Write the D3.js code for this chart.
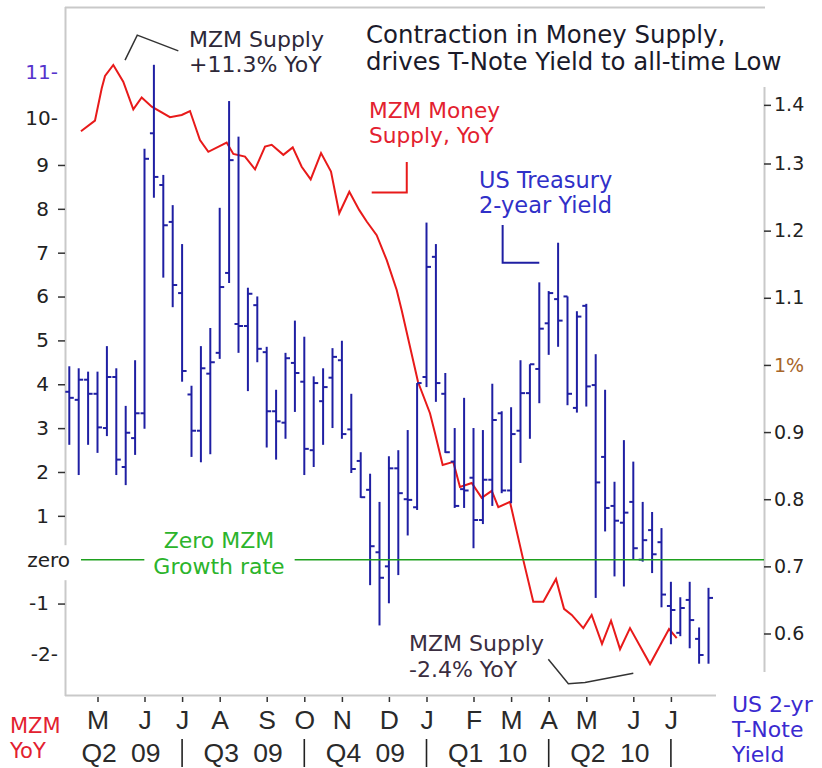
<!DOCTYPE html>
<html><head><meta charset="utf-8">
<script src="https://cdn.jsdelivr.net/npm/d3@7"></script>
<style>
html,body{margin:0;padding:0;background:#fff;}
svg{display:block;background:#fff;}
text{font-family:"DejaVu Sans",Verdana,sans-serif;}
</style></head><body>
<svg id="chart" width="822" height="768"></svg>
<script>
// ---- data: weekly US 2-year Treasury yield (OHLC, %) ----
const yieldHigh = [0.998,0.995,0.990,0.990,1.028,0.995,0.939,1.007,1.322,1.447,
  1.283,1.238,1.180,0.969,1.028,1.055,1.234,1.393,1.340,1.115,
  1.102,1.027,0.963,1.018,1.066,1.042,0.983,0.995,1.025,1.036,
  0.957,0.870,0.838,0.796,0.864,0.873,0.903,0.973,1.212,1.180,
  0.988,0.906,0.951,0.906,0.903,0.972,0.931,0.937,1.007,1.001,
  1.123,1.110,1.182,1.102,1.080,1.091,1.016,0.963,0.826,0.888,
  0.856,0.796,0.781,0.757,0.677,0.654,0.677,0.609,0.668];
const yieldLow = [0.881,0.836,0.881,0.869,0.894,0.836,0.821,0.866,0.905,1.249,
  1.130,1.086,0.975,0.863,0.855,0.867,1.009,1.122,1.018,0.961,
  1.004,0.877,0.859,0.890,0.930,0.836,0.848,0.881,0.906,0.890,
  0.839,0.802,0.672,0.612,0.645,0.687,0.746,0.784,0.967,0.945,
  0.869,0.787,0.787,0.727,0.763,0.790,0.809,0.794,0.854,0.890,
  0.943,1.015,1.027,0.940,0.929,0.938,0.653,0.752,0.685,0.670,
  0.710,0.707,0.690,0.639,0.584,0.596,0.578,0.555,0.555];
const yieldOpen = [0.960,0.948,0.978,0.957,0.906,0.982,0.848,0.891,0.928,1.345,
  1.268,1.213,1.107,0.956,0.902,0.987,1.018,1.137,1.061,1.058,
  1.089,1.019,0.931,0.914,1.003,0.975,0.873,0.946,0.981,1.007,
  0.904,0.857,0.814,0.721,0.700,0.846,0.800,0.788,0.982,1.161,
  0.957,0.856,0.815,0.832,0.769,0.829,0.928,0.813,0.902,0.958,
  0.994,1.062,1.098,1.102,0.936,1.088,0.970,0.863,0.790,0.765,
  0.796,0.710,0.754,0.736,0.641,0.601,0.650,0.592,null];
const yieldClose = [0.951,0.978,0.957,0.907,0.982,0.859,0.899,0.928,1.307,1.280,
  1.208,1.119,0.991,0.902,0.995,1.004,1.116,1.305,1.058,1.106,
  1.024,0.931,0.916,1.010,0.988,0.875,0.973,0.967,1.012,0.897,
  0.845,0.803,0.730,0.683,0.846,0.809,0.799,0.973,1.146,0.973,
  0.870,0.790,0.813,0.769,0.829,0.918,0.813,0.897,0.958,1.001,
  1.054,1.107,1.066,0.957,1.072,0.968,0.825,0.787,0.768,0.780,
  0.727,0.739,0.718,0.658,0.635,0.638,0.620,0.568,0.653];

// ---- data: MZM money supply, % YoY (week position, value) ----
const mzmWeek = [1.24,2.73,3.45,3.80,4.68,5.74,6.81,7.70,8.77,10.71,
  11.96,12.84,13.90,14.79,16.74,17.45,18.69,19.76,20.82,21.53,
  22.77,23.77,24.72,25.68,26.78,27.84,28.72,29.79,30.85,31.64,
  32.70,33.77,34.83,35.36,37.1,38.37,38.90,39.72,40.85,41.56,
  42.81,43.87,44.94,45.64,46.88,48.30,49.36,50.43,51.78,52.63,
  53.45,54.68,55.57,56.67,57.63,58.59,59.65,61.78,63.80,64.62];
const mzmYoY = [9.77,10.01,10.75,11.03,11.28,10.90,10.27,10.54,10.33,10.09,
  10.14,10.23,9.57,9.30,9.51,9.25,9.19,8.90,9.42,9.46,
  9.23,9.40,8.96,8.67,9.27,8.85,7.90,8.39,7.97,7.71,
  7.40,6.83,6.15,5.69,4.05,3.34,2.89,2.16,2.23,1.66,
  1.75,1.41,1.57,1.20,1.32,-0.01,-0.96,-0.96,-0.44,-1.12,
  -1.26,-1.56,-1.26,-1.92,-1.39,-2.04,-1.56,-2.38,-1.58,-1.79];

// ---- axis labels ----
const monthLabels = ["M","J","J","A","S","O","N","D","J","F","M","A","M","J","J"];
const monthWeek = [3,8,12,16,21,25,29,34,38,43,47,51,55,60,64];
const quarterLabels = ["Q2 09","Q3 09","Q4 09","Q1 10","Q2 10"];
const quarterBounds = [-1,12,25,38,51,64];
const leftTicks = [-2,-1,0,1,2,3,4,5,6,7,8,9,10,11];
const leftTickLabels = ["-2-","-1","zero","1","2","3","4","5","6","7","8","9","10-","11-"];
const rightTicks = [0.6,0.7,0.8,0.9,1.0,1.1,1.2,1.3,1.4];
const rightTickLabels = ["0.6","0.7","0.8","0.9","1%","1.1","1.2","1.3","1.4"];

// ---- annotation leaders (data units) ----
const leaderTop = [[5.93,11.39],[7.23,11.96],[11.6,11.6]];        // MZM axis
const leaderRed = [[32.17,8.37],[35.9,8.37],[35.9,9.07]];         // MZM axis
const leaderBlue = [[46.1,1.2085],[46.1,1.1523],[50.0,1.1523]];   // yield axis
const leaderBottom = [[50.96,-2.27],[53.09,-2.83],[54.86,-2.80],[60.0,-2.59]]; // MZM axis

// ---- drawing ----
const svg = d3.select("#chart");
const x = d3.scaleLinear().domain([0, 68]).range([69.3, 708.5]);
const yL = d3.scaleLinear().domain([0, 10]).range([559.7, 121.1]);
const yR = d3.scaleLinear().domain([0.6, 1.3]).range([633.5, 163.5]);

const BLUE = "#1f1fa3", RED = "#e81a1a", GREEN = "#1ea01e", FRAME = "#c9c9c9";
const BOTTOMFONT = "'Liberation Sans',Arial,sans-serif";

// frame
const frame = svg.append("g").attr("stroke", FRAME).attr("stroke-width", 2);
frame.append("line").attr("x1",65.5).attr("x2",65.5).attr("y1",7).attr("y2",696);
frame.append("line").attr("x1",65).attr("x2",765).attr("y1",7.5).attr("y2",7.5);
frame.append("line").attr("x1",65).attr("x2",716).attr("y1",695.5).attr("y2",695.5);
frame.append("line").attr("x1",764.5).attr("x2",764.5).attr("y1",87).attr("y2",672);

// left axis
const axL = svg.append("g").attr("transform","translate(65,0)")
  .call(d3.axisLeft(yL).tickValues(leftTicks).tickSize(7).tickPadding(9)
    .tickFormat(d => leftTickLabels[leftTicks.indexOf(d)]));
axL.select(".domain").remove();
axL.selectAll(".tick line").attr("stroke","#333").attr("stroke-width",1.5);
axL.selectAll(".tick text").attr("font-size",20).attr("fill","#222")
  .style("font-family","'DejaVu Sans',Verdana,sans-serif");
const nudgeL = {11:-5, 10:-3, "-2":7};
axL.selectAll(".tick").each(function(d){
  const g = d3.select(this);
  const lab = leftTickLabels[leftTicks.indexOf(d)];
  if (lab.endsWith("-")) {
    g.select("line").remove();
    g.select("text").attr("x",-7).attr("dy", (0.32*20 + (nudgeL[d]||0)) + "px");
  }
  if (d === 11) g.select("text").attr("fill","#5533cc");
  if (d === 0) {
    g.select("line").remove();
    g.insert("rect","text").attr("x",-6).attr("y",-15).attr("width",13).attr("height",35).attr("fill","#fff");
    g.select("text").attr("x",5);
  }
});

// right axis
const axR = svg.append("g").attr("transform","translate(764,0)")
  .call(d3.axisRight(yR).tickValues(rightTicks).tickSize(7).tickPadding(3)
    .tickFormat(d => rightTickLabels[rightTicks.indexOf(d)]));
axR.select(".domain").remove();
axR.selectAll(".tick line").attr("stroke","#333").attr("stroke-width",1.5);
axR.selectAll(".tick text").attr("font-size",19).attr("fill","#222")
  .style("font-family","'DejaVu Sans',Verdana,sans-serif");
axR.selectAll(".tick").filter(d => d === 1.4).attr("transform", `translate(0,${yR(1.4)+9})`);
axR.selectAll(".tick").filter(d => d === 1.0).select("text").attr("fill","#a8662a");

// bottom axis (months)
const axB = svg.append("g").attr("transform","translate(0,697)")
  .call(d3.axisBottom(x).tickValues(monthWeek).tickSize(5).tickPadding(0)
    .tickFormat(d => monthLabels[monthWeek.indexOf(d)]));
axB.select(".domain").remove();
axB.selectAll(".tick line").attr("stroke","#333").attr("stroke-width",1.5);
axB.selectAll(".tick text").attr("font-size",26.5).attr("fill","#2a2a2a")
  .attr("y",32).attr("dy",0)
  .style("font-family",BOTTOMFONT);

// quarters
const qg = svg.append("g");
quarterLabels.forEach((q,i) => {
  const cx = x((quarterBounds[i]+quarterBounds[i+1])/2);
  qg.append("text")
    .attr("x",cx).attr("y",762)
    .attr("text-anchor","middle").attr("font-size",26.5).attr("fill","#2a2a2a")
    .style("font-family",BOTTOMFONT).style("word-spacing","7px").text(q);
});
quarterBounds.slice(1).forEach(b => {
  qg.append("line").attr("x1", x(b)).attr("x2", x(b)).attr("y1",739).attr("y2",767)
    .attr("stroke","#222").attr("stroke-width",1.6);
});

// MZM line
const mzm = mzmWeek.map((w,i) => [w, mzmYoY[i]]);
svg.append("path").datum(mzm)
  .attr("d", d3.line().x(d => x(d[0])).y(d => yL(d[1])))
  .attr("fill","none").attr("stroke",RED).attr("stroke-width",2).attr("stroke-linejoin","miter");

// yield bars
const bars = svg.append("g").attr("stroke",BLUE).attr("stroke-width",2);
yieldHigh.forEach((h,i) => {
  const cx = x(i);
  bars.append("line").attr("x1",cx).attr("x2",cx).attr("y1",yR(h)).attr("y2",yR(yieldLow[i]));
  if (yieldOpen[i] != null)
    bars.append("line").attr("x1",cx-4).attr("x2",cx).attr("y1",yR(yieldOpen[i])).attr("y2",yR(yieldOpen[i]));
  if (yieldClose[i] != null)
    bars.append("line").attr("x1",cx).attr("x2",cx+4.5).attr("y1",yR(yieldClose[i])).attr("y2",yR(yieldClose[i]));
});

// zero line with gap for its label
const zl = svg.append("g");
zl.append("text").attr("x",219).attr("y",548).attr("text-anchor","middle")
  .attr("font-size",22).attr("fill","#2cb42c").text("Zero MZM");
const zt2 = zl.append("text").attr("x",219).attr("y",574).attr("text-anchor","middle")
  .attr("font-size",22).attr("fill","#2cb42c").text("Growth rate");
const bb = zt2.node().getBBox();
zl.append("line").attr("x1",81).attr("x2",bb.x-9).attr("y1",yL(0)).attr("y2",yL(0))
  .attr("stroke",GREEN).attr("stroke-width",1.6);
zl.append("line").attr("x1",bb.x+bb.width+10).attr("x2",764).attr("y1",yL(0)).attr("y2",yL(0))
  .attr("stroke",GREEN).attr("stroke-width",1.6);

// leaders
const lineL = d3.line().x(d => x(d[0])).y(d => yL(d[1]));
const lineR = d3.line().x(d => x(d[0])).y(d => yR(d[1]));
svg.append("path").attr("d", lineL(leaderTop)).attr("fill","none").attr("stroke","#333").attr("stroke-width",1.5);
svg.append("path").attr("d", lineL(leaderBottom)).attr("fill","none").attr("stroke","#333").attr("stroke-width",1.5);
svg.append("path").attr("d", lineL(leaderRed)).attr("fill","none").attr("stroke",RED).attr("stroke-width",2);
svg.append("path").attr("d", lineR(leaderBlue)).attr("fill","none").attr("stroke",BLUE).attr("stroke-width",2);

// texts
function txt(s, xx, yy, size, fill, anchor) {
  return svg.append("text").attr("x",xx).attr("y",yy).attr("font-size",size)
    .attr("fill",fill).attr("text-anchor",anchor||"start").text(s);
}
txt("Contraction in Money Supply,", 366, 43, 24.4, "#1a1a2a");
txt("drives T-Note Yield to all-time Low", 366, 70, 24.4, "#1a1a2a");
txt("MZM Supply", 189, 47, 22, "#2d2838");
txt("+11.3% YoY", 189, 72, 22, "#2d2838");
txt("MZM Money", 369, 118, 21.7, "#e3212f");
txt("Supply, YoY", 369, 143, 21.7, "#e3212f");
txt("US Treasury", 479, 188, 22.5, "#3030c8");
txt("2-year Yield", 479, 213, 22.5, "#3030c8");
txt("MZM Supply", 409, 651, 22, "#3a2d40");
txt("-2.4% YoY", 409, 677, 22, "#3a2d40");
txt("MZM", 10, 733, 21, "#e3212f");
txt("YoY", 10, 758, 21, "#e3212f");
txt("US 2-yr", 732, 712, 22, "#3a2ad0");
txt("T-Note", 732, 737, 22, "#3a2ad0");
txt("Yield", 732, 762, 22, "#3a2ad0");
</script>
</body></html>
